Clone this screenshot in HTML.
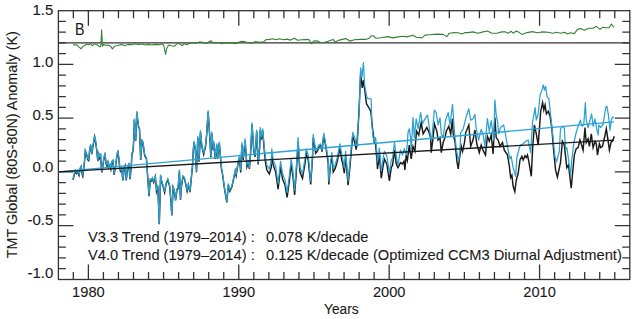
<!DOCTYPE html>
<html><head><meta charset="utf-8"><style>html,body{margin:0;padding:0;background:#fff;overflow:hidden}svg{display:block}</style></head>
<body><svg width="638" height="319" viewBox="0 0 638 319">
<rect x="58.4" y="10.7" width="571.40" height="268.80" fill="none" stroke="#333" stroke-width="1.3"/>
<path d="M73.34 279.5v-7.5M73.34 10.7v7.5M88.38 279.5v-15M88.38 10.7v15M103.42 279.5v-7.5M103.42 10.7v7.5M118.46 279.5v-7.5M118.46 10.7v7.5M133.50 279.5v-7.5M133.50 10.7v7.5M148.54 279.5v-7.5M148.54 10.7v7.5M163.58 279.5v-7.5M163.58 10.7v7.5M178.62 279.5v-7.5M178.62 10.7v7.5M193.66 279.5v-7.5M193.66 10.7v7.5M208.70 279.5v-7.5M208.70 10.7v7.5M223.74 279.5v-7.5M223.74 10.7v7.5M238.78 279.5v-15M238.78 10.7v15M253.82 279.5v-7.5M253.82 10.7v7.5M268.86 279.5v-7.5M268.86 10.7v7.5M283.90 279.5v-7.5M283.90 10.7v7.5M298.94 279.5v-7.5M298.94 10.7v7.5M313.98 279.5v-7.5M313.98 10.7v7.5M329.02 279.5v-7.5M329.02 10.7v7.5M344.06 279.5v-7.5M344.06 10.7v7.5M359.10 279.5v-7.5M359.10 10.7v7.5M374.14 279.5v-7.5M374.14 10.7v7.5M389.18 279.5v-15M389.18 10.7v15M404.22 279.5v-7.5M404.22 10.7v7.5M419.26 279.5v-7.5M419.26 10.7v7.5M434.30 279.5v-7.5M434.30 10.7v7.5M449.34 279.5v-7.5M449.34 10.7v7.5M464.38 279.5v-7.5M464.38 10.7v7.5M479.42 279.5v-7.5M479.42 10.7v7.5M494.46 279.5v-7.5M494.46 10.7v7.5M509.50 279.5v-7.5M509.50 10.7v7.5M524.54 279.5v-7.5M524.54 10.7v7.5M539.58 279.5v-15M539.58 10.7v15M554.62 279.5v-7.5M554.62 10.7v7.5M569.66 279.5v-7.5M569.66 10.7v7.5M584.70 279.5v-7.5M584.70 10.7v7.5M599.74 279.5v-7.5M599.74 10.7v7.5M614.78 279.5v-7.5M614.78 10.7v7.5M58.4 268.55h7.5M629.8 268.55h-7.5M58.4 257.80h7.5M629.8 257.80h-7.5M58.4 247.05h7.5M629.8 247.05h-7.5M58.4 236.30h7.5M629.8 236.30h-7.5M58.4 225.55h15M629.8 225.55h-15M58.4 214.80h7.5M629.8 214.80h-7.5M58.4 204.05h7.5M629.8 204.05h-7.5M58.4 193.30h7.5M629.8 193.30h-7.5M58.4 182.55h7.5M629.8 182.55h-7.5M58.4 171.80h15M629.8 171.80h-15M58.4 161.05h7.5M629.8 161.05h-7.5M58.4 150.30h7.5M629.8 150.30h-7.5M58.4 139.55h7.5M629.8 139.55h-7.5M58.4 128.80h7.5M629.8 128.80h-7.5M58.4 118.05h15M629.8 118.05h-15M58.4 107.30h7.5M629.8 107.30h-7.5M58.4 96.55h7.5M629.8 96.55h-7.5M58.4 85.80h7.5M629.8 85.80h-7.5M58.4 75.05h7.5M629.8 75.05h-7.5M58.4 64.30h15M629.8 64.30h-15M58.4 53.55h7.5M629.8 53.55h-7.5M58.4 42.80h7.5M629.8 42.80h-7.5M58.4 32.05h7.5M629.8 32.05h-7.5M58.4 21.30h7.5M629.8 21.30h-7.5" stroke="#333" stroke-width="1.3" fill="none"/>
<path d="M58.4 42.80H629.8" stroke="#333" stroke-width="1.3"/>
<path d="M73.0 44.4 L74.9 45.0 L76.8 44.8 L78.7 46.9 L81.2 48.8 L83.0 46.3 L85.6 45.0 L86.8 44.0 L88.7 44.8 L90.6 43.8 L92.5 45.7 L94.3 43.8 L97.5 45.0 L100.0 46.9 L100.9 45.0 L101.6 29.8 L102.5 46.3 L103.7 44.4 L105.6 45.3 L108.1 45.0 L110.6 46.3 L112.5 48.8 L114.4 46.3 L116.9 45.7 L119.4 45.0 L121.9 44.4 L124.4 45.7 L126.9 44.8 L129.4 44.4 L131.9 44.8 L134.5 43.8 L138.2 44.4 L142.0 44.0 L145.7 45.0 L148.0 44.4 L151.8 45.0 L155.5 44.4 L159.3 44.8 L161.8 43.8 L163.7 45.0 L165.6 54.5 L166.8 48.2 L168.7 45.0 L171.2 45.7 L174.3 46.3 L176.8 43.8 L180.0 43.8 L181.9 45.7 L184.4 43.8 L186.9 44.8 L189.4 43.2 L193.1 42.6 L195.6 43.2 L199.4 41.9 L203.2 42.6 L206.9 43.2 L210.7 40.7 L213.2 42.6 L218.2 42.6 L222.0 43.8 L224.5 43.2 L228.0 42.6 L231.8 42.9 L236.2 43.6 L240.5 41.6 L243.0 41.3 L246.8 42.3 L251.8 43.2 L255.6 41.6 L259.3 42.3 L263.7 41.9 L265.6 39.8 L269.4 39.4 L273.1 38.8 L275.6 39.8 L279.4 38.8 L283.2 39.8 L286.9 39.1 L290.7 40.1 L294.5 38.2 L297.6 40.3 L302.0 39.8 L308.0 39.4 L309.5 40.1 L311.1 43.8 L313.6 41.1 L316.8 40.7 L320.5 42.6 L324.3 42.3 L328.1 41.3 L333.1 39.4 L335.0 41.9 L339.3 40.1 L345.6 38.6 L350.0 41.1 L354.4 39.8 L360.7 39.4 L365.7 39.4 L369.4 38.2 L371.3 35.7 L373.2 35.7 L375.7 38.2 L380.7 37.8 L388.0 36.6 L393.0 37.9 L398.0 36.9 L403.0 36.3 L406.8 36.9 L413.1 35.3 L416.2 37.3 L421.9 37.9 L425.0 35.1 L429.4 34.8 L434.4 34.4 L438.2 34.1 L443.2 34.4 L446.9 36.6 L449.4 33.2 L454.5 32.6 L458.2 32.8 L462.0 34.1 L465.1 32.6 L468.0 32.6 L473.0 31.9 L478.0 33.2 L483.0 31.9 L487.4 31.0 L491.8 33.2 L496.8 33.2 L501.9 31.9 L505.6 31.9 L508.1 33.2 L511.3 31.3 L513.1 33.2 L516.3 31.0 L519.4 32.6 L521.9 34.4 L526.9 32.6 L532.6 31.6 L537.0 32.8 L543.2 31.9 L548.0 32.3 L553.0 33.2 L556.8 32.3 L560.5 33.2 L564.9 32.3 L567.4 34.1 L570.6 32.8 L574.3 33.6 L577.5 29.4 L580.6 28.6 L584.4 30.3 L588.8 28.2 L593.1 28.2 L596.3 26.3 L600.0 29.4 L602.5 27.3 L605.7 27.8 L609.4 27.6 L611.3 24.0 L613.8 27.3" stroke="#358035" stroke-width="1.1" fill="none" stroke-linejoin="round" stroke-miterlimit="6"/>
<path d="M73.0 179.8 L74.3 174.8 L75.3 171.0 L76.5 173.6 L77.8 172.3 L79.0 175.4 L80.3 168.5 L81.2 166.7 L82.0 173.6 L82.8 176.1 L83.7 168.5 L84.6 161.0 L85.3 151.1 L86.6 154.8 L87.8 159.8 L88.7 160.5 L89.6 151.1 L90.6 145.4 L91.2 149.8 L91.8 154.2 L92.8 147.3 L93.7 142.3 L94.6 136.6 L95.3 139.8 L96.2 146.0 L97.1 153.6 L97.8 161.1 L98.7 154.2 L99.6 158.0 L100.6 155.5 L101.2 166.0 L101.9 172.3 L102.9 166.0 L103.7 159.8 L105.0 153.6 L105.9 163.0 L106.9 166.1 L107.9 162.3 L108.8 167.4 L110.0 164.9 L110.9 169.0 L111.9 162.3 L112.9 161.0 L114.1 174.8 L115.4 167.3 L116.9 156.1 L117.9 151.1 L118.8 158.6 L119.7 167.4 L120.4 171.0 L121.7 168.5 L122.9 180.5 L124.2 168.5 L125.1 166.0 L126.3 180.5 L127.6 167.3 L128.8 164.8 L130.1 179.2 L131.3 166.0 L131.9 154.8 L133.2 149.8 L133.8 138.5 L134.3 120.0 L135.7 141.0 L136.8 112.5 L138.5 127.0 L139.5 129.0 L140.7 160.0 L142.0 141.0 L143.0 142.9 L143.9 149.8 L144.7 155.5 L146.4 158.6 L147.8 178.5 L149.0 196.1 L150.3 179.8 L151.5 181.0 L152.4 178.5 L153.7 182.3 L155.3 176.7 L156.5 191.1 L157.8 186.1 L159.3 224.2 L160.6 176.0 L161.8 182.3 L163.3 187.3 L164.6 192.3 L166.2 183.6 L167.8 179.8 L169.6 186.1 L170.5 196.0 L171.8 215.4 L173.1 187.3 L174.3 191.1 L175.6 200.5 L176.9 189.8 L178.1 188.6 L179.4 171.0 L180.5 200.0 L181.2 188.6 L182.9 176.7 L184.4 178.5 L185.9 184.8 L187.1 191.1 L188.4 184.8 L190.0 192.3 L191.3 178.5 L192.5 166.0 L193.3 151.0 L194.0 142.4 L195.3 148.6 L196.5 172.1 L197.8 137.7 L199.0 161.6 L200.5 132.1 L201.8 146.4 L203.7 154.4 L205.6 146.2 L206.8 133.2 L208.1 112.1 L209.9 139.0 L210.8 157.3 L211.8 133.6 L213.1 150.1 L213.7 142.6 L215.3 158.8 L216.8 145.1 L217.5 158.8 L219.3 143.0 L220.4 156.1 L221.2 167.3 L222.4 173.5 L224.3 187.3 L226.8 202.4 L228.3 184.8 L229.9 191.1 L231.8 187.3 L233.7 178.5 L235.3 171.0 L236.2 175.4 L238.2 162.5 L239.4 158.1 L240.7 172.4 L241.9 144.7 L243.2 159.9 L245.1 140.9 L246.9 166.7 L248.2 162.6 L249.4 168.9 L250.9 148.6 L252.0 124.3 L253.8 151.5 L255.1 156.8 L256.7 131.9 L258.2 164.4 L259.7 147.0 L260.3 129.4 L261.5 139.4 L262.8 130.8 L264.0 147.5 L265.5 162.5 L266.8 169.8 L269.3 173.9 L271.2 167.7 L271.8 154.0 L273.2 165.2 L275.6 171.8 L278.1 189.1 L280.6 166.4 L282.5 178.9 L285.0 185.1 L287.1 197.4 L289.3 181.4 L291.2 163.9 L293.1 177.7 L294.6 194.9 L296.2 173.9 L298.1 142.0 L299.4 164.6 L300.0 172.0 L302.5 178.4 L305.0 163.6 L306.3 153.6 L308.2 159.9 L308.8 165.9 L310.7 184.5 L312.5 158.2 L313.2 137.5 L315.7 153.1 L317.6 150.6 L318.8 147.3 L320.7 145.5 L322.0 151.7 L323.8 134.9 L326.3 149.8 L328.2 162.9 L328.8 184.4 L330.7 163.5 L332.0 156.3 L333.2 172.1 L335.1 168.6 L337.0 162.5 L339.9 148.2 L341.8 160.0 L343.0 165.2 L344.3 173.1 L345.6 156.5 L346.2 163.1 L348.1 185.3 L349.9 167.1 L351.8 145.3 L352.8 136.5 L353.7 139.4 L355.0 143.4 L356.2 149.7 L358.0 130.0 L359.5 100.0 L360.6 74.0 L362.3 88.0 L363.4 80.0 L365.1 92.5 L366.5 103.8 L368.5 107.0 L370.8 111.3 L372.5 128.0 L374.4 143.0 L375.6 144.4 L376.9 159.5 L377.5 168.9 L379.4 155.1 L381.3 178.1 L383.2 165.5 L384.4 159.0 L386.9 164.1 L389.4 180.9 L391.3 167.4 L392.5 165.5 L394.5 150.1 L396.3 164.0 L398.0 167.6 L400.5 162.6 L402.4 163.9 L404.0 161.3 L404.9 170.0 L406.2 155.1 L407.4 160.1 L409.3 145.0 L411.2 158.8 L413.0 146.3 L414.9 151.3 L416.5 131.0 L418.7 135.1 L421.2 122.6 L423.1 133.9 L426.8 127.6 L428.7 131.3 L430.6 137.6 L431.2 152.6 L433.1 137.5 L434.4 123.8 L436.9 131.3 L438.1 140.0 L440.0 137.5 L441.3 152.6 L443.1 142.5 L445.0 137.5 L446.3 131.3 L448.8 126.3 L450.7 133.9 L452.5 118.8 L453.2 133.8 L455.1 142.5 L456.9 161.3 L458.2 168.9 L459.4 158.8 L461.3 146.3 L462.6 151.3 L464.5 142.5 L465.7 132.6 L468.8 125.0 L470.7 146.3 L473.0 140.1 L474.9 130.0 L476.8 143.8 L479.3 152.6 L481.2 145.1 L483.0 150.1 L485.5 155.0 L487.4 136.3 L489.3 141.3 L491.2 135.0 L493.1 153.9 L494.9 117.5 L496.2 137.6 L498.1 140.1 L500.0 146.3 L502.5 142.6 L504.3 150.1 L507.5 155.0 L509.4 166.3 L510.6 177.6 L511.9 175.1 L513.1 186.0 L514.8 191.5 L516.3 180.0 L518.1 173.8 L520.0 160.0 L521.9 156.3 L523.2 160.0 L525.0 155.7 L526.3 157.5 L527.5 155.0 L528.8 161.3 L531.3 176.3 L532.6 148.8 L534.4 125.0 L536.3 133.8 L538.2 145.1 L540.7 111.3 L542.6 102.6 L543.8 110.0 L545.1 105.0 L546.4 113.8 L548.2 111.3 L550.1 116.3 L551.8 127.6 L553.6 150.1 L555.6 170.1 L557.4 177.0 L560.5 162.6 L562.4 141.3 L564.3 145.0 L566.8 167.6 L568.5 165.0 L571.2 188.2 L574.3 155.1 L576.2 148.8 L578.1 147.6 L580.0 140.0 L581.2 143.8 L583.1 150.1 L585.0 127.5 L586.2 142.6 L588.1 138.8 L589.4 146.3 L591.3 133.8 L593.1 147.6 L595.0 141.3 L596.3 143.8 L597.5 155.1 L599.4 143.8 L600.7 147.6 L602.5 146.3 L605.1 135.0 L606.3 128.8 L608.2 141.3 L609.4 150.1 L611.3 141.3 L612.6 141.3 L614.2 136.3" stroke="#1a1a1a" stroke-width="1.45" fill="none" stroke-linejoin="miter" stroke-miterlimit="6"/>
<path d="M73.0 178.8 L74.3 173.8 L75.3 170.0 L76.5 172.6 L77.8 171.3 L79.0 174.4 L80.3 167.5 L81.2 165.7 L82.0 172.6 L82.8 175.1 L83.7 167.5 L84.6 160.0 L85.3 150.1 L86.6 153.8 L87.8 158.8 L88.7 159.5 L89.6 150.1 L90.6 144.4 L91.2 148.8 L91.8 153.2 L92.8 146.3 L93.7 141.3 L94.6 135.6 L95.3 138.8 L96.2 145.0 L97.1 152.6 L97.8 160.1 L98.7 153.2 L99.6 157.0 L100.6 154.5 L101.2 165.0 L101.9 171.3 L102.9 165.0 L103.7 158.8 L105.0 152.6 L105.9 162.0 L106.9 165.1 L107.9 161.3 L108.8 166.4 L110.0 163.9 L110.9 168.0 L111.9 161.3 L112.9 160.0 L114.1 173.8 L115.4 166.3 L116.9 155.1 L117.9 150.1 L118.8 157.6 L119.7 166.4 L120.4 170.0 L121.7 167.5 L122.9 179.5 L124.2 167.5 L125.1 165.0 L126.3 179.5 L127.6 166.3 L128.8 163.8 L130.1 178.2 L131.3 165.0 L131.9 153.8 L133.2 148.8 L133.8 137.5 L134.3 119.0 L135.7 140.0 L136.8 111.5 L138.5 126.0 L139.5 128.0 L140.7 159.0 L142.0 140.0 L143.0 141.9 L143.9 148.8 L144.7 154.5 L146.4 157.6 L147.8 177.5 L149.0 195.1 L150.3 178.8 L151.5 180.0 L152.4 177.5 L153.7 181.3 L155.3 175.7 L156.5 190.1 L157.8 185.1 L159.3 223.2 L160.6 175.0 L161.8 181.3 L163.3 186.3 L164.6 191.3 L166.2 182.6 L167.8 178.8 L169.6 185.1 L170.5 195.0 L171.8 214.4 L173.1 186.3 L174.3 190.1 L175.6 199.5 L176.9 188.8 L178.1 187.6 L179.4 170.0 L180.5 199.0 L181.2 187.6 L182.9 175.7 L184.4 177.5 L185.9 183.8 L187.1 190.1 L188.4 183.8 L190.0 191.3 L191.3 177.5 L192.5 165.0 L193.3 150.0 L194.0 141.4 L195.3 147.5 L196.5 171.0 L197.8 136.3 L199.0 160.1 L200.5 130.7 L201.8 145.0 L203.7 153.2 L205.6 145.0 L206.8 132.0 L208.1 110.6 L209.9 137.5 L210.8 155.7 L211.8 132.0 L213.1 148.8 L213.7 141.4 L215.3 157.6 L216.8 143.9 L217.5 157.6 L219.3 142.0 L220.4 155.1 L221.2 166.3 L222.4 172.5 L224.3 186.3 L226.8 201.4 L228.3 183.8 L229.9 190.1 L231.8 186.3 L233.7 177.5 L235.3 170.0 L236.2 174.4 L238.2 161.3 L239.4 156.3 L240.7 170.1 L241.9 142.5 L243.2 157.6 L245.1 138.8 L246.9 165.1 L248.2 161.3 L249.4 167.6 L250.9 147.5 L252.0 123.2 L253.8 150.0 L255.1 155.1 L256.7 130.1 L258.2 162.6 L259.7 145.0 L260.3 127.5 L261.5 137.5 L262.8 128.8 L264.0 145.0 L265.5 158.0 L266.8 165.0 L269.3 168.8 L271.2 162.5 L271.8 148.8 L273.2 160.0 L275.6 166.3 L278.1 183.8 L280.6 161.3 L282.5 173.8 L285.0 180.1 L287.1 192.6 L289.3 176.3 L291.2 158.8 L293.1 172.6 L294.6 190.1 L296.2 168.8 L298.1 137.5 L299.4 160.1 L300.0 167.5 L302.5 173.8 L305.0 158.8 L306.3 148.8 L308.2 155.1 L308.8 161.3 L310.7 181.3 L312.5 155.0 L313.2 134.4 L315.7 150.1 L317.6 147.6 L318.8 145.0 L320.7 143.8 L322.0 150.1 L323.8 133.2 L326.3 147.6 L328.2 160.1 L328.8 181.3 L330.7 160.0 L332.0 152.6 L333.2 168.8 L335.1 165.0 L337.0 158.8 L339.9 143.8 L341.8 155.0 L343.0 160.1 L344.3 168.0 L345.6 151.3 L346.2 158.0 L348.1 181.0 L349.9 163.0 L351.8 141.3 L352.8 132.5 L353.7 135.0 L355.0 138.8 L356.2 145.0 L357.5 146.3 L358.1 125.0 L359.0 115.0 L360.6 67.9 L362.0 76.8 L363.4 62.7 L364.6 85.0 L367.0 98.2 L371.2 99.1 L371.9 125.0 L373.1 137.5 L374.4 141.3 L375.6 137.5 L376.9 152.6 L377.5 162.0 L379.4 148.2 L381.3 171.0 L383.2 158.0 L384.4 151.3 L386.9 156.3 L389.4 173.0 L391.3 160.0 L392.5 158.0 L394.5 142.6 L396.3 156.3 L398.0 165.0 L400.5 150.1 L402.4 155.1 L404.3 148.8 L406.2 155.1 L407.4 142.5 L408.0 132.6 L409.3 128.8 L410.5 137.6 L411.2 150.0 L413.0 117.6 L414.3 137.6 L416.2 118.8 L418.1 128.8 L420.6 112.5 L422.5 123.8 L425.0 118.8 L427.5 115.0 L430.0 132.6 L431.2 140.0 L431.9 137.6 L434.4 110.0 L436.2 112.5 L438.1 125.0 L440.0 117.6 L441.3 133.9 L443.1 137.6 L445.6 120.1 L448.2 112.5 L450.0 125.0 L452.5 104.4 L454.4 131.3 L456.3 148.8 L457.6 156.3 L458.8 161.0 L460.1 148.8 L460.7 132.6 L463.2 128.8 L466.3 116.3 L468.8 108.8 L470.7 120.1 L473.2 118.8 L474.9 114.5 L476.1 127.5 L478.6 140.1 L481.2 129.4 L483.0 133.8 L484.9 146.3 L487.4 118.5 L489.3 131.3 L491.2 120.5 L493.7 140.1 L494.9 100.0 L496.2 115.1 L497.5 121.0 L498.7 133.8 L500.6 127.5 L503.7 125.0 L505.6 135.0 L508.1 150.0 L510.0 158.8 L511.2 156.3 L513.1 167.6 L515.6 176.3 L516.9 157.5 L518.1 152.5 L519.4 147.5 L520.6 145.1 L523.2 143.8 L525.7 141.3 L528.2 140.1 L530.7 152.6 L532.6 121.3 L533.2 118.9 L535.1 107.6 L536.3 120.1 L538.2 113.8 L540.1 95.0 L542.0 90.0 L543.2 85.0 L544.5 90.0 L545.7 86.3 L547.0 96.3 L548.9 98.8 L550.5 113.8 L552.4 131.4 L554.9 156.3 L556.5 162.0 L559.3 151.3 L560.5 128.8 L562.4 126.3 L564.3 128.0 L565.6 150.1 L566.8 147.6 L568.1 156.3 L570.6 175.0 L571.8 160.0 L573.7 143.8 L575.6 135.0 L576.2 132.6 L578.1 126.3 L580.4 120.1 L581.9 126.3 L583.7 125.0 L585.4 102.5 L586.2 120.1 L588.1 127.6 L590.0 120.1 L591.6 113.8 L593.1 126.3 L595.0 118.8 L596.9 130.1 L598.2 135.0 L598.8 125.0 L600.7 127.6 L603.2 123.8 L605.7 107.5 L606.9 106.3 L608.2 113.8 L610.1 130.1 L611.3 120.1 L612.6 117.0 L613.8 117.6" stroke="#2aa2d2" stroke-width="1.25" fill="none" stroke-linejoin="round" stroke-miterlimit="6"/>
<path d="M58.4 171.8L613.8 121.9" stroke="#2aa2d2" stroke-width="1.3"/>
<path d="M58.4 171.8L613.8 140.1" stroke="#1a1a1a" stroke-width="1.3"/>
<text x="53.4" y="14.9" text-anchor="end" font-size="15" font-family="&quot;Liberation Sans&quot;, sans-serif" fill="#1a1a1a" stroke="#1a1a1a" stroke-width="0.1">1.5</text>
<text x="53.4" y="67.4" text-anchor="end" font-size="15" font-family="&quot;Liberation Sans&quot;, sans-serif" fill="#1a1a1a" stroke="#1a1a1a" stroke-width="0.1">1.0</text>
<text x="53.4" y="119.8" text-anchor="end" font-size="15" font-family="&quot;Liberation Sans&quot;, sans-serif" fill="#1a1a1a" stroke="#1a1a1a" stroke-width="0.1">0.5</text>
<text x="53.4" y="172.3" text-anchor="end" font-size="15" font-family="&quot;Liberation Sans&quot;, sans-serif" fill="#1a1a1a" stroke="#1a1a1a" stroke-width="0.1">0.0</text>
<text x="53.4" y="225.0" text-anchor="end" font-size="15" font-family="&quot;Liberation Sans&quot;, sans-serif" fill="#1a1a1a" stroke="#1a1a1a" stroke-width="0.1">-0.5</text>
<text x="53.4" y="277.6" text-anchor="end" font-size="15" font-family="&quot;Liberation Sans&quot;, sans-serif" fill="#1a1a1a" stroke="#1a1a1a" stroke-width="0.1">-1.0</text>
<text x="88.4" y="297.1" text-anchor="middle" font-size="15" font-family="&quot;Liberation Sans&quot;, sans-serif" fill="#1a1a1a" stroke="#1a1a1a" stroke-width="0.1" textLength="32.6" lengthAdjust="spacingAndGlyphs">1980</text>
<text x="238.8" y="297.1" text-anchor="middle" font-size="15" font-family="&quot;Liberation Sans&quot;, sans-serif" fill="#1a1a1a" stroke="#1a1a1a" stroke-width="0.1" textLength="32.6" lengthAdjust="spacingAndGlyphs">1990</text>
<text x="389.2" y="297.1" text-anchor="middle" font-size="15" font-family="&quot;Liberation Sans&quot;, sans-serif" fill="#1a1a1a" stroke="#1a1a1a" stroke-width="0.1" textLength="32.6" lengthAdjust="spacingAndGlyphs">2000</text>
<text x="539.6" y="297.1" text-anchor="middle" font-size="15" font-family="&quot;Liberation Sans&quot;, sans-serif" fill="#1a1a1a" stroke="#1a1a1a" stroke-width="0.1" textLength="32.6" lengthAdjust="spacingAndGlyphs">2010</text>
<text x="341.3" y="313.8" text-anchor="middle" font-size="14" font-family="&quot;Liberation Sans&quot;, sans-serif" fill="#1a1a1a" stroke="#1a1a1a" stroke-width="0.1" textLength="34.5" lengthAdjust="spacingAndGlyphs">Years</text>
<text transform="translate(16.9 144.75) rotate(-90)" text-anchor="middle" font-size="14" font-family="&quot;Liberation Sans&quot;, sans-serif" fill="#1a1a1a" stroke="#1a1a1a" stroke-width="0.1" textLength="227" lengthAdjust="spacingAndGlyphs">TMT Global (80S-80N) Anomaly (K)</text>
<text x="75" y="34.6" font-size="16" font-family="&quot;Liberation Sans&quot;, sans-serif" fill="#1a1a1a" stroke="#1a1a1a" stroke-width="0.1" textLength="9.5" lengthAdjust="spacingAndGlyphs">B</text>
<text x="88" y="241.9" font-size="14.8" font-family="&quot;Liberation Sans&quot;, sans-serif" fill="#1a1a1a" stroke="#1a1a1a" stroke-width="0.1" textLength="158.5" lengthAdjust="spacingAndGlyphs">V3.3 Trend (1979&#8211;2014)</text>
<text x="250.8" y="241.9" font-size="14.8" font-family="&quot;Liberation Sans&quot;, sans-serif" fill="#1a1a1a" stroke="#1a1a1a" stroke-width="0.1">:</text>
<text x="266" y="241.9" font-size="14.8" font-family="&quot;Liberation Sans&quot;, sans-serif" fill="#1a1a1a" stroke="#1a1a1a" stroke-width="0.1" textLength="102.5" lengthAdjust="spacingAndGlyphs">0.078 K/decade</text>
<text x="88" y="260.1" font-size="14.8" font-family="&quot;Liberation Sans&quot;, sans-serif" fill="#1a1a1a" stroke="#1a1a1a" stroke-width="0.1" textLength="158.5" lengthAdjust="spacingAndGlyphs">V4.0 Trend (1979&#8211;2014)</text>
<text x="250.8" y="260.1" font-size="14.8" font-family="&quot;Liberation Sans&quot;, sans-serif" fill="#1a1a1a" stroke="#1a1a1a" stroke-width="0.1">:</text>
<text x="266" y="260.1" font-size="14.8" font-family="&quot;Liberation Sans&quot;, sans-serif" fill="#1a1a1a" stroke="#1a1a1a" stroke-width="0.1" textLength="355.8" lengthAdjust="spacingAndGlyphs">0.125 K/decade (Optimized CCM3 Diurnal Adjustment)</text>
</svg></body></html>
